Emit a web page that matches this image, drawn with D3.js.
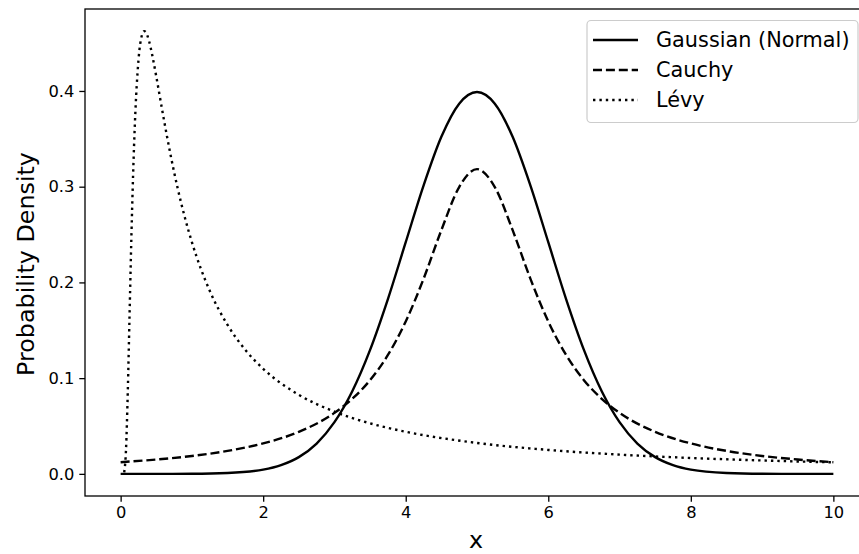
<!DOCTYPE html>
<html>
<head>
<meta charset="utf-8">
<script src="https://cdn.jsdelivr.net/npm/d3@7"></script>
<style>
  html, body { margin: 0; padding: 0; background: #fff; }
  svg text { font-family: "DejaVu Sans", sans-serif; fill: #000; }
</style>
</head>
<body>
<svg id="chart" width="859" height="554"></svg>
<script>
// ---- data ----
const gaussX = [0,0.5,1,1.5,2,2.25,2.5,2.75,3,3.25,3.5,3.75,4,4.25,4.5,4.75,5,5.25,5.5,5.75,6,6.25,6.5,6.75,7,7.25,7.5,7.75,8,8.5,9,9.5,10];
const gaussY = [0.0000,0.0000,0.0001,0.0009,0.0044,0.0091,0.0175,0.0317,0.0540,0.0863,0.1295,0.1826,0.2420,0.3011,0.3521,0.3867,0.3989,0.3867,0.3521,0.3011,0.2420,0.1826,0.1295,0.0863,0.0540,0.0317,0.0175,0.0091,0.0044,0.0009,0.0001,0.0000,0.0000];

const cauchyX = [0,0.5,1,1.5,2,2.5,3,3.25,3.5,3.75,4,4.25,4.5,4.75,5,5.25,5.5,5.75,6,6.25,6.5,6.75,7,7.5,8,8.5,9,9.5,10];
const cauchyY = [0.0122,0.0150,0.0187,0.0240,0.0318,0.0439,0.0637,0.0784,0.0979,0.1242,0.1592,0.2037,0.2546,0.2996,0.3183,0.2996,0.2546,0.2037,0.1592,0.1242,0.0979,0.0784,0.0637,0.0439,0.0318,0.0240,0.0187,0.0150,0.0122];

const levyX = [0.05,0.075,0.1,0.125,0.15,0.175,0.2,0.25,0.3,0.33,0.35,0.4,0.45,0.5,0.6,0.7,0.8,0.9,1,1.25,1.5,1.75,2,2.5,3,3.5,4,5,6,7,8,9,10];
const levyY = [0.0016,0.0247,0.0850,0.1653,0.2449,0.3129,0.3661,0.4319,0.4586,0.4625,0.4617,0.4518,0.4350,0.4151,0.3730,0.3334,0.2984,0.2681,0.2420,0.1913,0.1556,0.1295,0.1098,0.0826,0.0650,0.0528,0.0440,0.0323,0.0250,0.0201,0.0166,0.0140,0.0120];

const seriesNames = ["Gaussian (Normal)", "Cauchy", "Lévy"];
const xTicks = [0, 2, 4, 6, 8, 10];
const yTicks = [0.0, 0.1, 0.2, 0.3, 0.4];
const xLabel = "x";
const yLabel = "Probability Density";

// ---- layout ----
const svg = d3.select("#chart");
const pLeft = 85, pRight = 869, pTop = 9, pBottom = 496;
const x = d3.scaleLinear().domain([-0.5, 10.5]).range([pLeft, pRight]);
const y = d3.scaleLinear().domain([-0.023125, 0.485625]).range([pBottom, pTop]);

const styles = [
  { dash: null },
  { dash: "9,3.9" },
  { dash: "2.4,4" }
];
const series = [
  { name: seriesNames[0], xs: gaussX, ys: gaussY, style: styles[0] },
  { name: seriesNames[1], xs: cauchyX, ys: cauchyY, style: styles[1] },
  { name: seriesNames[2], xs: levyX, ys: levyY, style: styles[2] }
];

svg.append("defs").append("clipPath").attr("id", "plotclip")
  .append("rect").attr("x", pLeft).attr("y", pTop).attr("width", pRight - pLeft).attr("height", pBottom - pTop);

const line = d3.line()
  .x(d => x(d[0]))
  .y(d => y(d[1]))
  .curve(d3.curveMonotoneX);

const plot = svg.append("g").attr("clip-path", "url(#plotclip)");
series.forEach(s => {
  const pts = s.xs.map((v, i) => [v, s.ys[i]]);
  plot.append("path")
    .datum(pts)
    .attr("d", line)
    .attr("fill", "none")
    .attr("stroke", "#000")
    .attr("stroke-width", 2.4)
    .attr("stroke-linejoin", "round")
    .attr("stroke-dasharray", s.style.dash);
});

// axes
const xAxis = d3.axisBottom(x).tickValues(xTicks).tickFormat(d3.format("d")).tickSize(5.7).tickPadding(5);
const yAxis = d3.axisLeft(y).tickValues(yTicks).tickFormat(d3.format(".1f")).tickSize(5.7).tickPadding(5);

const gx = svg.append("g").attr("transform", `translate(0,${pBottom})`).call(xAxis);
const gy = svg.append("g").attr("transform", `translate(${pLeft},0)`).call(yAxis);
[gx, gy].forEach(g => {
  g.select(".domain").remove();
  g.selectAll(".tick line").attr("stroke", "#000").attr("stroke-width", 1.3);
  g.selectAll(".tick text").attr("font-size", 16.3).attr("font-family", "DejaVu Sans").attr("fill", "#000");
});

// frame
svg.append("rect")
  .attr("x", pLeft).attr("y", pTop)
  .attr("width", pRight - pLeft).attr("height", pBottom - pTop)
  .attr("fill", "none").attr("stroke", "#000").attr("stroke-width", 1.3);

// axis labels
svg.append("text")
  .attr("x", 476).attr("y", 548)
  .attr("text-anchor", "middle")
  .attr("font-size", 23.8)
  .text(xLabel);

svg.append("text")
  .attr("transform", `translate(34,264) rotate(-90)`)
  .attr("text-anchor", "middle")
  .attr("font-size", 23.8)
  .text(yLabel);

// legend
const lg = svg.append("g");
lg.append("rect")
  .attr("x", 587).attr("y", 20.5)
  .attr("width", 271).attr("height", 102)
  .attr("rx", 4)
  .attr("fill", "#fff").attr("fill-opacity", 0.8)
  .attr("stroke", "#cccccc").attr("stroke-width", 1.2);

series.forEach((s, i) => {
  const cy = 40 + i * 30;
  lg.append("line")
    .attr("x1", 593).attr("x2", 638)
    .attr("y1", cy).attr("y2", cy)
    .attr("stroke", "#000").attr("stroke-width", 2.4)
    .attr("stroke-dasharray", s.style.dash);
  lg.append("text")
    .attr("x", 656).attr("y", cy)
    .attr("dy", "0.36em")
    .attr("font-size", 20.8)
    .text(s.name);
});
</script>
</body>
</html>
